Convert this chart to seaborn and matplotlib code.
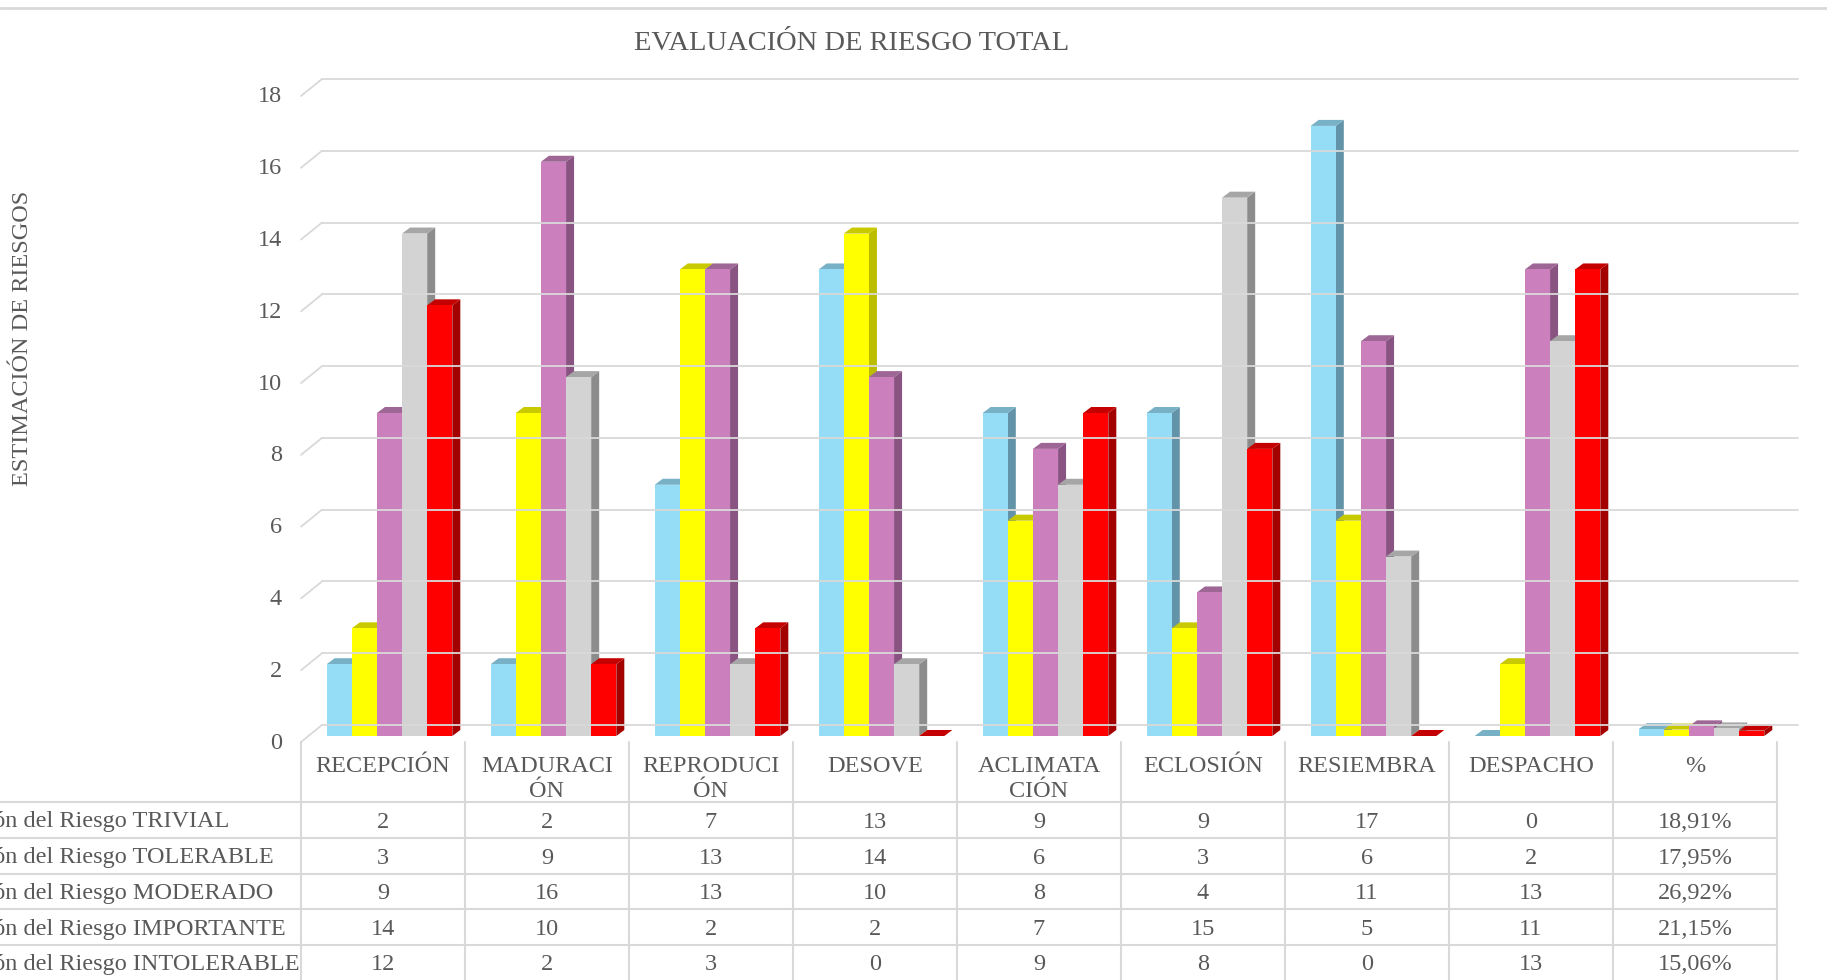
import matplotlib
matplotlib.use("Agg")
import matplotlib.pyplot as plt
import matplotlib.transforms as mtransforms
from matplotlib.lines import Line2D
from matplotlib.patches import Polygon
import numpy as np
import pandas as pd
import seaborn as sns

# --- Data ---
CATEGORIES = ["RECEPCIÓN", "MADURACIÓN", "REPRODUCIÓN", "DESOVE", "ACLIMATACIÓN",
              "ECLOSIÓN", "RESIEMBRA", "DESPACHO", "%"]
HEADER_LABELS = ["RECEPCIÓN", "MADURACI\nÓN", "REPRODUCI\nÓN", "DESOVE", "ACLIMATA\nCIÓN",
                 "ECLOSIÓN", "RESIEMBRA", "DESPACHO", "%"]
SERIES = ["Estimación del Riesgo TRIVIAL", "Estimación del Riesgo TOLERABLE",
          "Estimación del Riesgo MODERADO", "Estimación del Riesgo IMPORTANTE",
          "Estimación del Riesgo INTOLERABLE"]
trivial = [2, 2, 7, 13, 9, 9, 17, 0, 0.1891]
tolerable = [3, 9, 13, 14, 6, 3, 6, 2, 0.1795]
moderado = [9, 16, 13, 10, 8, 4, 11, 13, 0.2692]
importante = [14, 10, 2, 2, 7, 15, 5, 11, 0.2115]
intolerable = [12, 2, 3, 0, 9, 8, 0, 13, 0.1506]
Y_TICKS = list(range(0, 19, 2))

FRONT_COLORS = ["#95DDF7", "#FFFF00", "#CB7FBD", "#D3D3D3", "#FF0000"]
SIDE_COLORS = ["#6393A8", "#BDBD00", "#8A5482", "#8C8C8C", "#A30000"]
TOP_COLORS = ["#78B0C6", "#C9C900", "#9E6695", "#A6A6A6", "#C40000"]
TEXT_COLOR = "#595959"
GRID_COLOR = "#D9D9D9"
FS = 17.5

values = [trivial, tolerable, moderado, importante, intolerable]
rows = []
for name, vals in zip(SERIES, values):
    for cat, v in zip(CATEGORIES, vals):
        rows.append({"categoria": cat, "serie": name, "valor": v})
df = pd.DataFrame(rows)

sns.set_theme(style="white")
plt.rcParams["font.family"] = ["Liberation Serif", "DejaVu Serif"]

W, H = 1827, 980
COL_W = 164.0
fig = plt.figure(figsize=(W / 100, H / 100), dpi=100)
ax = fig.add_axes([307.5 / W, 1 - 736 / H, 9 * COL_W / W, 646 / H])

sns.barplot(data=df, x="categoria", y="valor", hue="serie", order=CATEGORIES,
            hue_order=SERIES, palette=dict(zip(SERIES, FRONT_COLORS)), saturation=1,
            width=0.766, errorbar=None, linewidth=0, legend=False, ax=ax)
ax.set_xlim(-0.5, len(CATEGORIES) - 0.5)
ax.set_ylim(0, 18)
sns.despine(ax=ax, left=True, bottom=True)
ax.set_xticks([])
ax.set_xlabel("")
ax.set_ylabel("")
ax.set_yticks(Y_TICKS)
ax.set_yticklabels([str(t) for t in Y_TICKS])
ax.tick_params(axis="y", length=0, pad=18.4, labelsize=FS, labelcolor=TEXT_COLOR)
shift = mtransforms.ScaledTranslation(0, -0.045, fig.dpi_scale_trans)
for lab in ax.get_yticklabels():
    lab.set_transform(lab.get_transform() + shift)

ident = mtransforms.IdentityTransform()


def px(x, y):
    return ax.transData.transform((x, y))


# back wall gridlines and the little diagonal ticks on the floor edge
BACK_DX, BACK_DY = 14.5, 11
FRONT_DX, FRONT_DY = -6.5, -6
for t in Y_TICKS:
    x0, y0 = px(-0.5, t)
    x1, _ = px(len(CATEGORIES) - 0.5, t)
    fig.add_artist(Line2D([x0 + BACK_DX, x1 + BACK_DX], [y0 + BACK_DY, y0 + BACK_DY],
                          transform=ident, color=GRID_COLOR, lw=1.3, zorder=0.5))
    fig.add_artist(Line2D([x0 + FRONT_DX, x0 + BACK_DX], [y0 + FRONT_DY, y0 + BACK_DY],
                          transform=ident, color=GRID_COLOR, lw=1.3, zorder=0.5))

# 3D faces for every bar, drawn left to right
DEPTH_X, DEPTH_Y = 8, 6
bars = []
for k, cont in enumerate(ax.containers):
    for rect in cont:
        bars.append((rect.get_x(), k, rect))
bars.sort(key=lambda b: b[0])
for _, k, rect in bars:
    rect.set_zorder(3)
    bx, by = rect.get_x(), rect.get_y()
    bw, bh = rect.get_width(), rect.get_height()
    (lx, b0), (rx, t0) = px(bx, by), px(bx + bw, by + bh)
    side = Polygon([(rx, b0), (rx + DEPTH_X, b0 + DEPTH_Y), (rx + DEPTH_X, t0 + DEPTH_Y), (rx, t0)],
                   closed=True, transform=ident, facecolor=SIDE_COLORS[k], lw=0,
                   zorder=2, clip_on=False)
    top = Polygon([(lx, t0), (rx, t0), (rx + DEPTH_X, t0 + DEPTH_Y), (lx + DEPTH_X, t0 + DEPTH_Y)],
                  closed=True, transform=ident, facecolor=TOP_COLORS[k], lw=0,
                  zorder=2, clip_on=False)
    ax.add_patch(side)
    ax.add_patch(top)

# --- data table under the chart ---
tab = mtransforms.offset_copy(mtransforms.blended_transform_factory(ax.transData, fig.transFigure),
                              fig=fig, x=FRONT_DX, y=0, units="dots")
table_top = 1 - 742 / H
row_lines = [1 - y / H for y in (802, 838, 874, 909, 945)]
row_centers = [1 - y / H for y in (822, 858, 893, 929, 964)]

for k in range(len(CATEGORIES) + 1):
    fig.add_artist(Line2D([k - 0.5, k - 0.5], [table_top, 0], transform=tab,
                          color=GRID_COLOR, lw=1.5))
for yl in row_lines:
    fig.add_artist(Line2D([-5, len(CATEGORIES) - 0.5], [yl, yl], transform=tab,
                          color=GRID_COLOR, lw=1.5))

for i, lab in enumerate(HEADER_LABELS):
    fig.text(i, 1 - 755.5 / H, lab, transform=tab, ha="center", va="top",
             fontsize=FS, color=TEXT_COLOR, linespacing=1.3)

for r, (name, vals) in enumerate(zip(SERIES, values)):
    fig.text(-92 / W, row_centers[r], name, ha="left", va="center",
             fontsize=FS, color=TEXT_COLOR)
    for i, v in enumerate(vals):
        if CATEGORIES[i] == "%":
            txt = f"{v * 100:.2f}%".replace(".", ",")
        else:
            txt = f"{int(v)}"
        fig.text(i, row_centers[r], txt, transform=tab, ha="center", va="center",
                 fontsize=FS, color=TEXT_COLOR)

# titles and frame line
fig.text(852 / W, 1 - 43 / H, "EVALUACIÓN DE RIESGO TOTAL", ha="center", va="center",
         fontsize=20.5, color=TEXT_COLOR)
fig.text(23 / W, 1 - 338 / H, "ESTIMACIÓN DE RIESGOS", rotation=90, ha="center",
         va="center", fontsize=FS, color=TEXT_COLOR)
fig.add_artist(Line2D([0, 1], [1 - 8 / H, 1 - 8 / H], transform=fig.transFigure,
                      color=GRID_COLOR, lw=2))

fig.savefig("out.png", dpi=100)
